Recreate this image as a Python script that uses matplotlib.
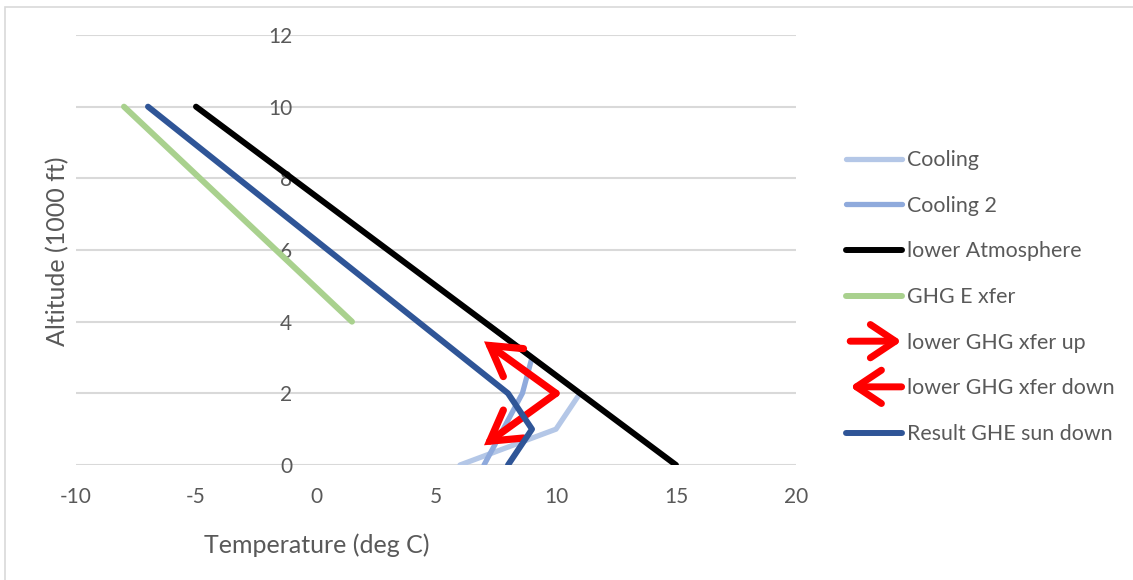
import matplotlib
matplotlib.use("Agg")
import matplotlib.pyplot as plt
from matplotlib.lines import Line2D
from matplotlib.patches import FancyArrowPatch, Rectangle
from matplotlib.legend_handler import HandlerBase

plt.rcParams['font.family'] = ['Lato', 'DejaVu Sans']

# ---- data ----
cooling_x = [6, 10, 11, 9, 7]
cooling_y = [0, 1, 2, 3, 4]
cooling2_x = [7, 7.8, 8.6, 9, 7]
cooling2_y = [0, 1, 2, 3, 4]
atmos_x = [15, -5]
atmos_y = [0, 10]
ghg_x = [1.5, -8]
ghg_y = [4, 10]
up_x = [10, 7]
up_y = [2, 3.45]
down_x = [7, 10]
down_y = [0.55, 2]
result_x = [8, 9, 8, -7]
result_y = [0, 1, 2, 10]

x_ticks = [-10, -5, 0, 5, 10, 15, 20]
y_ticks = [0, 2, 4, 6, 8, 10, 12]

labels = ["Cooling", "Cooling 2", "lower Atmosphere", "GHG E xfer",
          "lower GHG xfer up", "lower GHG xfer down", "Result GHE sun down"]

C_COOL = "#b4c7e7"
C_COOL2 = "#8faadc"
C_ATM = "#000000"
C_GHG = "#a9d18e"
C_RED = "#ff0000"
C_RES = "#2f5597"
TXT = "#595959"
GRID = "#d9d9d9"

W, H = 1133, 580
fig = plt.figure(figsize=(W / 100, H / 100), dpi=100)
fig.patches.append(Rectangle((5 / W, -0.1), 1.2, 1 - 7 / H + 0.1, transform=fig.transFigure,
                             fill=False, edgecolor="#d9d9d9", lw=1.2))
ax = fig.add_axes([76 / W, 115 / H, 720 / W, 430 / H])

lw_main = 4.3
l1, = ax.plot(cooling_x, cooling_y, color=C_COOL, lw=3.8, solid_capstyle='round', zorder=3)
l2, = ax.plot(cooling2_x, cooling2_y, color=C_COOL2, lw=3.8, solid_capstyle='round', zorder=4)
l3, = ax.plot(atmos_x, atmos_y, color=C_ATM, lw=lw_main, solid_capstyle='round', zorder=5)
l4, = ax.plot(ghg_x, ghg_y, color=C_GHG, lw=lw_main, solid_capstyle='round', zorder=6)

arrow_style = "->,head_length=1.05,head_width=0.62"
a_up = FancyArrowPatch((up_x[0], up_y[0]), (up_x[1], up_y[1]), arrowstyle=arrow_style,
                       mutation_scale=20, color=C_RED, lw=5.2, capstyle='round',
                       joinstyle='miter', shrinkA=0, shrinkB=0, zorder=7)
a_dn = FancyArrowPatch((down_x[1], down_y[1]), (down_x[0], down_y[0]), arrowstyle=arrow_style,
                       mutation_scale=20, color=C_RED, lw=5.2, capstyle='round',
                       joinstyle='miter', shrinkA=0, shrinkB=0, zorder=8)
ax.add_patch(a_up)
ax.add_patch(a_dn)
l7, = ax.plot(result_x, result_y, color=C_RES, lw=lw_main, solid_capstyle='round', zorder=9)

ax.set_xlim(x_ticks[0], x_ticks[-1])
ax.set_ylim(y_ticks[0], y_ticks[-1])
ax.set_xticks(x_ticks)
ax.set_yticks(y_ticks)
ax.set_xticklabels([str(v) for v in x_ticks])
ax.set_yticklabels([str(v) for v in y_ticks])
for s in ax.spines.values():
    s.set_visible(False)
ax.spines['left'].set_position(('data', 0))
ax.grid(axis='y', color=GRID, lw=1.5, zorder=0)
ax.set_axisbelow(True)
ax.tick_params(axis='both', length=0, labelsize=15, colors=TXT)
ax.tick_params(axis='x', pad=16)
ax.tick_params(axis='y', pad=17)

fig.text(317 / W, 1 - 545 / H, "Temperature (deg C)", ha='center', va='center',
         fontsize=18, color=TXT)
fig.text(58 / W, 1 - 251 / H, "Altitude (1000 ft)", ha='center', va='center',
         rotation=90, fontsize=18, color=TXT)


class HandlerArrow(HandlerBase):
    def __init__(self, to_right):
        super().__init__()
        self.to_right = to_right

    def create_artists(self, legend, orig_handle, xdescent, ydescent, width, height,
                       fontsize, trans):
        y = height / 2 - ydescent
        x0, x1 = -xdescent, width - xdescent
        if self.to_right:
            a, b = (x0 + 3, y), (x1, y)
        else:
            a, b = (x1, y), (x0 + 3, y)
        p = FancyArrowPatch(a, b, arrowstyle="->,head_length=0.9,head_width=0.6",
                            mutation_scale=20, color=C_RED, lw=5, capstyle='round',
                            shrinkA=0, shrinkB=0, transform=trans)
        return [p]


h_up = Line2D([], [], color=C_RED)
h_dn = Line2D([], [], color=C_RED)
handles = [l1, l2, l3, l4, h_up, h_dn, l7]
leg = ax.legend(handles, labels, loc='upper left', bbox_to_anchor=(846 / W, 1 - 150 / H),
                bbox_transform=fig.transFigure, frameon=False, fontsize=15.4,
                labelcolor=TXT, handlelength=2.6, handletextpad=0.25, labelspacing=1.2,
                borderaxespad=0, borderpad=0,
                handler_map={h_up: HandlerArrow(True), h_dn: HandlerArrow(False)})

fig.savefig("out.png", dpi=100)
